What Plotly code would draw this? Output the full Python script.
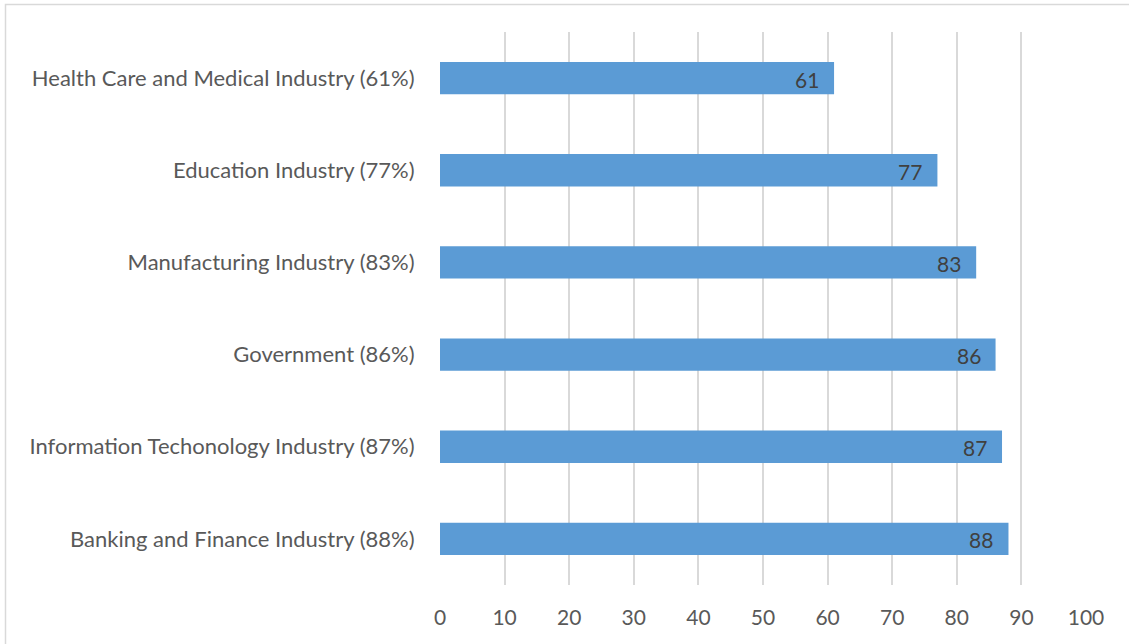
import plotly.graph_objects as go

categories = [
    "Banking and Finance Industry (88%)",
    "Information Techonology Industry (87%)",
    "Government (86%)",
    "Manufacturing Industry (83%)",
    "Education Industry (77%)",
    "Health Care and Medical Industry (61%)",
]
values = [88, 87, 86, 83, 77, 61]
x_ticks = [0, 10, 20, 30, 40, 50, 60, 70, 80, 90, 100]

W, H = 1129, 644
L, R, T, B = 440, 43, 32, 59
pw, ph = W - L - R, H - T - B
FONT = "Lato, Open Sans, sans-serif"

fig = go.Figure(go.Bar(
    y=categories, x=values, orientation="h",
    marker=dict(color="#5B9BD5", line=dict(width=0)),
    width=0.35,
    hoverinfo="skip",
))

# data labels inside the bar end
for c, v in zip(categories, values):
    fig.add_annotation(x=v, y=c, text=str(v), showarrow=False,
                       xanchor="right", xshift=-13, yshift=-1,
                       font=dict(family=FONT, size=21, color="#404040"))

fig.update_layout(
    width=W, height=H,
    margin=dict(l=L, r=R, t=T, b=B),
    paper_bgcolor="white", plot_bgcolor="white",
    showlegend=False,
    font=dict(family=FONT, size=21, color="#595959"),
    xaxis=dict(range=[0, 100], tickvals=x_ticks, showgrid=True, gridcolor="#D9D9D9",
               gridwidth=1.5, zeroline=False, showline=False,
               ticks="outside", ticklen=14, tickcolor="rgba(0,0,0,0)",
               tickfont=dict(size=21, color="#595959")),
    yaxis=dict(showgrid=False, zeroline=False, showline=False,
               ticks="outside", ticklen=20, tickcolor="rgba(0,0,0,0)",
               tickfont=dict(size=22, color="#595959")),
)

# outer chart border (light gray frame)
fig.add_shape(type="rect", xref="paper", yref="paper",
              x0=(5.5 - L) / pw, x1=(W + 5 - L) / pw,
              y0=-(H + 5 - T - ph) / ph, y1=(H - 4.5 - B) / ph,
              line=dict(color="#D9D9D9", width=1.5), fillcolor="rgba(0,0,0,0)", layer="below")

fig.write_html("out.html", config={"displayModeBar": False},
               post_script="document.body.style.margin='0';document.body.style.overflow='hidden';")
